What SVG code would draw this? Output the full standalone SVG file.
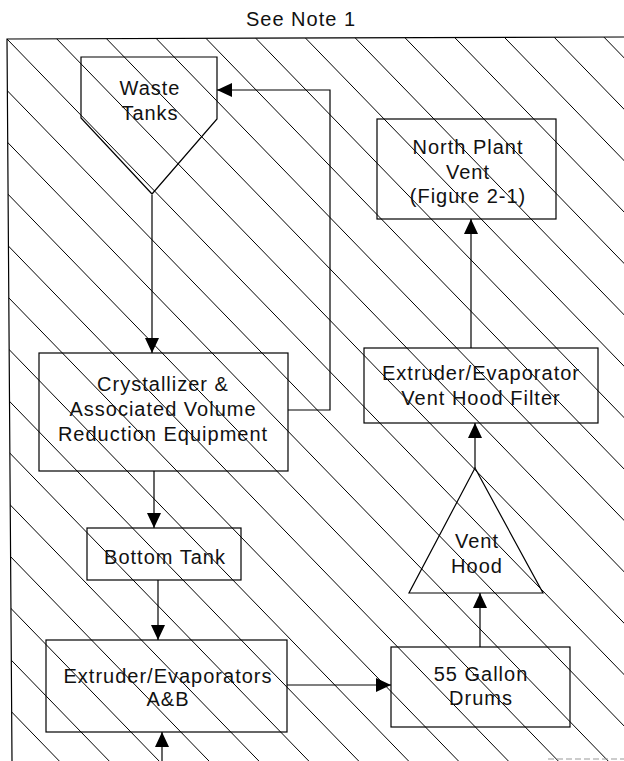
<svg xmlns="http://www.w3.org/2000/svg" width="624" height="761" viewBox="0 0 624 761">
<style>
.node{fill:none;stroke:#000;stroke-width:1.2}
.hatch{fill:none;stroke:#000;stroke-width:1}
.conn{fill:none;stroke:#000;stroke-width:1.2}
text{font-family:"Liberation Sans",Arial,sans-serif;font-size:20px;fill:#111;text-anchor:middle;letter-spacing:1px}
</style>
<defs>
<clipPath id="frameClip"><polygon points="7,39 624,37 624,761 12,761"/></clipPath>
<marker id="arr" markerUnits="userSpaceOnUse" markerWidth="15" markerHeight="14" refX="15" refY="7" orient="auto"><path d="M0,0 L15,7 L0,14 z" fill="#000"/></marker>
</defs>
<rect width="624" height="761" fill="#fff"/>
<text x="301" y="26">See Note 1</text>
<g id="frame">
<path class="node" d="M624,37 L7,39 L12,761"/>
<g class="hatch" clip-path="url(#frameClip)">
<path d="M-741.6,-12.5 l900,927 M-691.7,-12.5 l900,927 M-641.8,-12.5 l900,927 M-591.9,-12.5 l900,927 M-542,-12.5 l900,927 M-492.1,-12.5 l900,927 M-442.2,-12.5 l900,927 M-392.3,-12.5 l900,927 M-342.4,-12.5 l900,927 M-292.5,-12.5 l900,927 M-242.6,-12.5 l900,927 M-192.7,-12.5 l900,927 M-142.8,-12.5 l900,927 M-92.9,-12.5 l900,927 M-43,-12.5 l900,927 M6.9,-12.5 l900,927 M56.8,-12.5 l900,927 M106.7,-12.5 l900,927 M156.6,-12.5 l900,927 M206.5,-12.5 l900,927 M256.4,-12.5 l900,927 M306.3,-12.5 l900,927 M356.2,-12.5 l900,927 M406.1,-12.5 l900,927 M456,-12.5 l900,927 M505.9,-12.5 l900,927 M555.8,-12.5 l900,927"/>
</g>
<line x1="548" y1="759" x2="624" y2="759" stroke="#999" stroke-width="1" stroke-dasharray="6,3"/>
</g>
<g id="connectors">
<path class="conn" d="M152,195 L152,353" marker-end="url(#arr)"/>
<path class="conn" d="M288,410 L330,410 L330,90 L217,90" marker-end="url(#arr)"/>
<path class="conn" d="M154,471 L154,528" marker-end="url(#arr)"/>
<path class="conn" d="M158,580 L158,640" marker-end="url(#arr)"/>
<path class="conn" d="M287,685 L391,685" marker-end="url(#arr)"/>
<path class="conn" d="M480,647 L480,593" marker-end="url(#arr)"/>
<path class="conn" d="M475,468 L475,423" marker-end="url(#arr)"/>
<path class="conn" d="M471,348 L471,219" marker-end="url(#arr)"/>
<path class="conn" d="M162,761 L162,732" marker-end="url(#arr)"/>
</g>
<g id="waste-tanks">
<polygon class="node" points="81,57 217,57 217,119 152,194 81,118"/>
<text x="150" y="95">Waste</text>
<text x="150" y="120">Tanks</text>
</g>
<g id="north-plant-vent">
<rect class="node" x="377" y="119" width="179" height="100"/>
<text x="468" y="154">North Plant</text>
<text x="468" y="179">Vent</text>
<text x="468" y="203">(Figure 2-1)</text>
</g>
<g id="crystallizer">
<rect class="node" x="39" y="353" width="249" height="118"/>
<text x="163" y="391">Crystallizer &amp;</text>
<text x="163" y="416">Associated Volume</text>
<text x="163" y="441">Reduction Equipment</text>
</g>
<g id="vent-hood-filter">
<rect class="node" x="364" y="348" width="234" height="75"/>
<text x="481" y="380">Extruder/Evaporator</text>
<text x="481" y="405">Vent Hood Filter</text>
</g>
<g id="bottom-tank">
<rect class="node" x="87" y="528" width="154" height="52"/>
<text x="165" y="564">Bottom Tank</text>
</g>
<g id="vent-hood">
<polygon class="node" points="475,468 543,593 409,593"/>
<text x="477" y="548">Vent</text>
<text x="477" y="573">Hood</text>
</g>
<g id="extruder-evaporators">
<rect class="node" x="46" y="640" width="241" height="92"/>
<text x="168" y="683">Extruder/Evaporators</text>
<text x="168" y="706">A&amp;B</text>
</g>
<g id="drums">
<rect class="node" x="391" y="647" width="179" height="80"/>
<text x="481" y="681">55 Gallon</text>
<text x="481" y="705">Drums</text>
</g>
</svg>
